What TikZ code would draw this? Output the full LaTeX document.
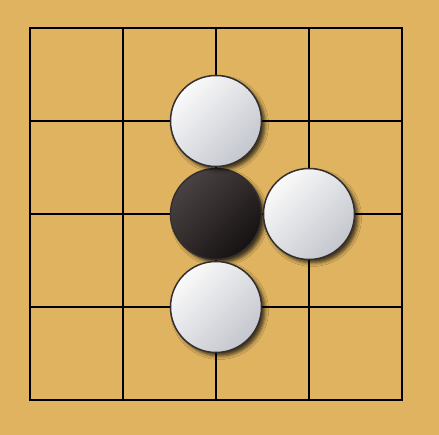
\documentclass[tikz,border=0pt]{standalone}
\usepackage{xcolor}
\usepackage{tikz}
\usetikzlibrary{shadows.blur}
\definecolor{boardwood}{RGB}{223, 179, 96}
\definecolor{stoneedge}{RGB}{52, 47, 46}
\definecolor{whitetop}{RGB}{250, 250, 250}
\definecolor{whitebot}{RGB}{196, 198, 206}
\definecolor{blacktop}{RGB}{74, 66, 66}
\definecolor{blackbot}{RGB}{22, 18, 18}

\tikzset{
    stone/.style={circle, draw=stoneedge, line width=1.5pt, minimum size=91pt,
        inner sep=0pt,
        blur shadow={shadow xshift=3.5pt, shadow yshift=-3.5pt,
            shadow blur radius=3.5pt, shadow opacity=70}},
    whitestone/.style={stone, top color=whitetop, bottom color=whitebot, shading angle=45},
    blackstone/.style={stone, top color=blacktop, bottom color=blackbot, shading angle=45}
}

\begin{document}
\begin{tikzpicture}[x=1pt, y=1pt]
    % Board
    \fill[boardwood] (0,0) rectangle (439,435);
    \useasboundingbox (0,0) rectangle (439,435);

    % Grid lines
    \foreach \i in {0,...,4} {
        \draw[line width=1.5pt, line cap=rect] (30+93*\i, 35) -- (30+93*\i, 407);
        \draw[line width=1.5pt, line cap=rect] (30, 35+93*\i) -- (402, 35+93*\i);
    }

    % Stones
    \node[blackstone] (center) at (216, 221) {};
    \node[whitestone] (top) at (216, 314) {};
    \node[whitestone] (right) at (309, 221) {};
    \node[whitestone] (bottom) at (216, 128) {};
\end{tikzpicture}
\end{document}
